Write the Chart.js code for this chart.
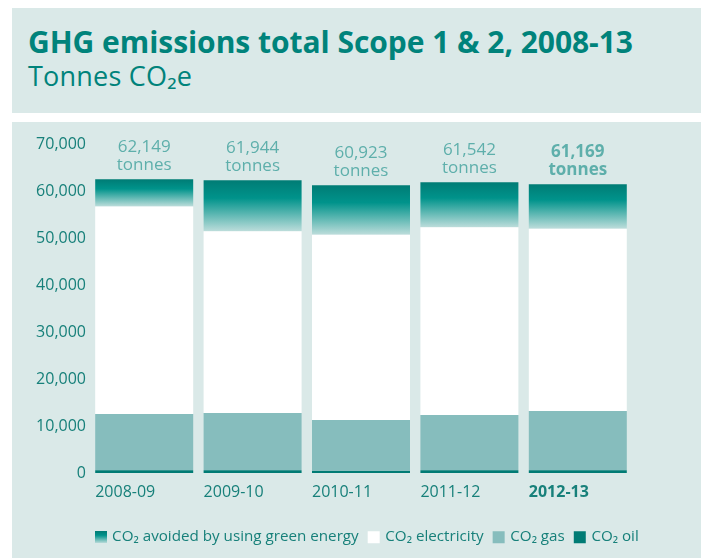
<!DOCTYPE html>
<html>
<head>
<meta charset="utf-8">
<script src="https://cdn.jsdelivr.net/npm/chart.js@4"></script>
<style>
  body { margin: 0; background: #fff; width: 701px; height: 558px; overflow: hidden; position: relative;
         font-family: 'Open Sans', 'Noto Sans', sans-serif; }
  #head { position: absolute; left: 12px; top: 8px; width: 689px; height: 105px; background: #dae9e8; }
  #title { position: absolute; left: 16px; top: 19px; font-size: 30px; line-height: 30px; font-weight: bold;
           color: #00837b; white-space: nowrap; }
  #sub { position: absolute; left: 16px; top: 54px; font-size: 27px; line-height: 27px; color: #00837b; white-space: nowrap; }
  #box { position: absolute; left: 12px; top: 122px; width: 689px; height: 436px; background: #dae9e8; }
</style>
</head>
<body>
<div id="head">
  <div id="title">GHG emissions total Scope 1 &amp; 2, 2008-13</div>
  <div id="sub">Tonnes CO₂e</div>
</div>
<div id="box"><canvas id="chart" width="689" height="436"></canvas></div>
<script>
const years = ['2008-09', '2009-10', '2010-11', '2011-12', '2012-13'];
const totals = ['62,149', '61,944', '60,923', '61,542', '61,169'];
const oil = [600, 600, 450, 600, 600];
const gas = [11950, 12170, 10820, 11740, 12600];
const electricity = [44200, 38690, 39490, 39980, 38840];
const greenEnergy = [5790, 10880, 10520, 9590, 9440];

const teal = '#17807a';
const font = "'Open Sans', 'Noto Sans', sans-serif";

// squeeze title lines to the width they have in the print version
function fitWidth(id, w) {
  const el = document.getElementById(id);
  const cur = el.getBoundingClientRect().width;
  const n = el.textContent.length - 1;
  el.style.letterSpacing = ((w - cur) / n) + 'px';
}
fitWidth('title', 605);
fitWidth('sub', 164);

// small gradient square for the legend
const swatch = document.createElement('canvas');
swatch.width = 12;
swatch.height = 12;
const sctx = swatch.getContext('2d');
const sg = sctx.createLinearGradient(0, 0, 0, 12);
sg.addColorStop(0, '#007c75');
sg.addColorStop(0.35, '#00938b');
sg.addColorStop(1, '#bddddb');
sctx.fillStyle = sg;
sctx.fillRect(0, 0, 12, 12);

function greenFill(c) {
  const chart = c.chart;
  const y = chart.scales.y;
  const i = c.dataIndex;
  if (!y || i === undefined) return '#00938b';
  const base = oil[i] + gas[i] + electricity[i];
  const top = base + greenEnergy[i];
  const y0 = y.getPixelForValue(top);
  const y1 = y.getPixelForValue(base);
  if (!isFinite(y0) || !isFinite(y1) || y0 === y1) return '#00938b';
  const g = chart.ctx.createLinearGradient(0, y0, 0, y1);
  g.addColorStop(0, '#007c75');
  g.addColorStop(0.35, '#00938b');
  g.addColorStop(1, '#bddddb');
  return g;
}

const totalLabels = {
  id: 'totalLabels',
  afterDatasetsDraw(chart) {
    const ctx = chart.ctx;
    const meta = chart.getDatasetMeta(chart.data.datasets.length - 1);
    ctx.save();
    ctx.textAlign = 'center';
    ctx.textBaseline = 'middle';
    ctx.fillStyle = '#5eafab';
    meta.data.forEach((bar, i) => {
      const weight = i === years.length - 1 ? 'bold ' : '';
      ctx.font = weight + '17px ' + font;
      ctx.fillText(totals[i], bar.x, bar.y - 32);
      ctx.fillText('tonnes', bar.x, bar.y - 14);
    });
    ctx.restore();
  }
};

// legend starts under the first bar, not at the canvas edge
const legendShift = {
  id: 'legendShift',
  afterLayout(chart) {
    chart.legend.left += 73.5;
    chart.legend.right += 73.5;
  }
};

new Chart(document.getElementById('chart'), {
  type: 'bar',
  data: {
    labels: years,
    datasets: [
      { label: 'CO₂ oil', data: oil, backgroundColor: '#007b74', pointStyle: 'rect' },
      { label: 'CO₂ gas', data: gas, backgroundColor: '#86bdbd', pointStyle: 'rect' },
      { label: 'CO₂ electricity', data: electricity, backgroundColor: '#ffffff', pointStyle: 'rect' },
      { label: 'CO₂ avoided by using green energy', data: greenEnergy, backgroundColor: greenFill, pointStyle: swatch }
    ]
  },
  options: {
    responsive: false,
    animation: false,
    locale: 'en-US',
    layout: { padding: { top: 22.3, right: 69, bottom: 3.25, left: 0 } },
    datasets: {
      bar: { categoryPercentage: 1, barPercentage: 0.904, borderWidth: 0 }
    },
    scales: {
      x: {
        stacked: true,
        grid: { display: false, drawTicks: false },
        border: { display: false },
        ticks: {
          color: teal,
          padding: 10,
          align: 'start',
          labelOffset: -49,
          font: c => ({ family: font, size: 16, weight: c.index === years.length - 1 ? 'bold' : 'normal' })
        },
        afterFit: s => { s.height = 45.5; }
      },
      y: {
        stacked: true,
        min: 0,
        max: 70000,
        grid: { display: false, drawTicks: false },
        border: { display: false },
        ticks: { stepSize: 10000, color: teal, padding: 4, font: { family: font, size: 16 } },
        afterFit: s => { s.width = 78; }
      }
    },
    plugins: {
      tooltip: { enabled: false },
      legend: {
        position: 'bottom',
        align: 'start',
        fullSize: true,
        reverse: true,
        labels: {
          usePointStyle: true,
          boxWidth: 8,
          boxHeight: 12,
          padding: 11,
          color: teal,
          font: { family: font, size: 15.2 }
        }
      }
    }
  },
  plugins: [totalLabels, legendShift]
});
</script>
</body>
</html>
